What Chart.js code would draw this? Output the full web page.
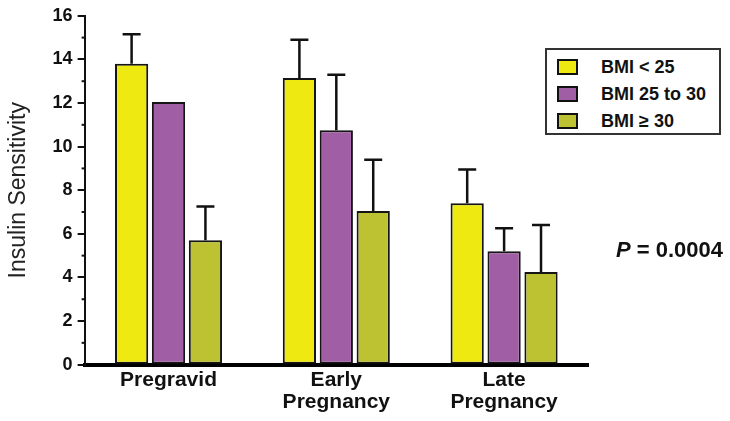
<!DOCTYPE html>
<html lang="en">
<head>
    <meta charset="UTF-8">
    <title>Insulin Sensitivity by BMI</title>
    <script src="https://cdn.jsdelivr.net/npm/chart.js"></script>
    <style>
        body { margin: 0; background: #fff; font-family: "Liberation Sans", Arial, sans-serif; }
        #wrap { position: relative; width: 730px; height: 421px; }
        #legend {
            position: absolute; left: 545px; top: 48px; width: 172px; height: 83px;
            border: 2px solid #333; background: #fff;
        }
        #legend .row { position: absolute; left: 10px; height: 20px; display: flex; align-items: center; }
        #legend .sw { width: 17px; height: 12px; border: 2px solid #111; margin-right: 23px; }
        #legend .lab { font-weight: bold; font-size: 18px; color: #111; }
        #pval { position: absolute; left: 616px; top: 237px; font-weight: bold; font-size: 22px; color: #111; }
    </style>
</head>
<body>
<div id="wrap">
    <canvas id="chart" width="730" height="421"></canvas>
    <div id="legend"></div>
    <div id="pval"><i>P</i> = 0.0004</div>
</div>
<script>
    const categories = ['Pregravid', ['Early', 'Pregnancy'], ['Late', 'Pregnancy']];
    const groups = ['BMI < 25', 'BMI 25 to 30', 'BMI \u2265 30'];
    const colors = ['#efe912', '#a05ea4', '#bcc232'];

    const bmiUnder25 = [13.8, 13.15, 7.4];
    const bmi25to30 = [12.05, 10.75, 5.2];
    const bmiOver30 = [5.7, 7.05, 4.25];

    const errUnder25 = [1.35, 1.75, 1.55];
    const err25to30 = [0, 2.55, 1.05];
    const errOver30 = [1.55, 2.35, 2.15];

    const yTicks = [0, 2, 4, 6, 8, 10, 12, 14, 16];

    const values = [bmiUnder25, bmi25to30, bmiOver30];
    const errors = [errUnder25, err25to30, errOver30];

    // legend in a box, built from the same arrays
    const legend = document.getElementById('legend');
    groups.forEach((g, i) => {
        const row = document.createElement('div');
        row.className = 'row';
        row.style.top = (7 + i * 27) + 'px';
        row.innerHTML = `<span class="sw" style="background:${colors[i]}"></span><span class="lab">${g}</span>`;
        legend.appendChild(row);
    });

    // upper error bars + short minor ticks on the y axis
    const extras = {
        id: 'extras',
        afterDatasetsDraw(chart) {
            const c = chart.ctx;
            const y = chart.scales.y;
            c.save();
            c.strokeStyle = '#111';
            c.lineWidth = 2.5;
            chart.data.datasets.forEach((ds, di) => {
                chart.getDatasetMeta(di).data.forEach((bar, i) => {
                    const e = errors[di][i];
                    if (!e) return;
                    const top = y.getPixelForValue(ds.data[i] + e);
                    c.beginPath();
                    c.moveTo(bar.x, bar.y);
                    c.lineTo(bar.x, top);
                    c.moveTo(bar.x - 9, top);
                    c.lineTo(bar.x + 9, top);
                    c.stroke();
                });
            });
            c.lineWidth = 2;
            for (let v = 1; v < 16; v += 2) {
                const py = y.getPixelForValue(v);
                c.beginPath();
                c.moveTo(y.right - 3, py);
                c.lineTo(y.right + 1, py);
                c.stroke();
            }
            c.restore();
        }
    };

    new Chart(document.getElementById('chart'), {
        type: 'bar',
        data: {
            labels: categories,
            datasets: groups.map((g, i) => ({
                label: g,
                data: values[i],
                backgroundColor: colors[i],
                borderColor: '#151515',
                borderWidth: 2,
                borderSkipped: false,
                categoryPercentage: 0.66,
                barPercentage: 0.9
            }))
        },
        options: {
            responsive: false,
            animation: false,
            layout: { padding: { top: -3, right: 142, bottom: 3, left: 5 } },
            plugins: { legend: { display: false }, tooltip: { enabled: false } },
            scales: {
                x: {
                    grid: { display: false, drawTicks: false },
                    border: { color: '#000', width: 4 },
                    ticks: {
                        color: '#111', padding: 4,
                        font: { family: 'Liberation Sans', size: 21, weight: 'bold', lineHeight: 1.08 },
                        maxRotation: 0
                    }
                },
                y: {
                    min: 0, max: 16,
                    afterBuildTicks: (ax) => { ax.ticks = yTicks.map(v => ({ value: v })); },
                    grid: { drawOnChartArea: false, tickLength: 7, color: '#111', lineWidth: 2 },
                    border: { color: '#111', width: 2 },
                    ticks: {
                        color: '#111', padding: 5,
                        font: { family: 'Liberation Sans', size: 18, weight: 'bold' }
                    },
                    title: {
                        display: true, text: 'Insulin Sensitivity', color: '#222',
                        font: { family: 'Liberation Sans', size: 23 }, padding: { top: 0, bottom: 15 }
                    }
                }
            }
        },
        plugins: [extras]
    });
</script>
</body>
</html>
